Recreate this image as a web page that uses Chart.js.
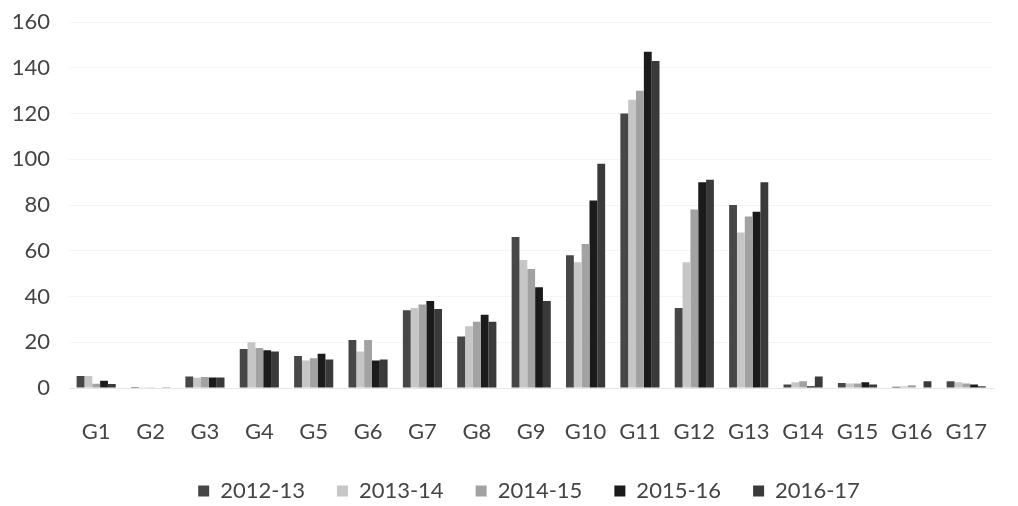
<!DOCTYPE html>
<html>
<head>
<meta charset="utf-8">
<script src="https://cdn.jsdelivr.net/npm/chart.js@4.4.1/dist/chart.umd.min.js"></script>
<style>
  html, body { margin: 0; padding: 0; background: #ffffff; }
  #wrap { width: 1018px; height: 506px; }
</style>
</head>
<body>
<div id="wrap"><canvas id="c" width="1018" height="506"></canvas></div>
<script>
// Categories along the x axis
const categories = ['G1','G2','G3','G4','G5','G6','G7','G8','G9','G10','G11','G12','G13','G14','G15','G16','G17'];

// Series values, one array per year
const y2012_13 = [5.3, 0.4, 5.0, 17.0, 14.0, 21.0, 34.0, 22.5, 66.0, 58.0, 120.0, 35.0, 80.0, 1.5, 2.2, 0.5, 3.0];
const y2013_14 = [5.3, 0.3, 4.5, 20.0, 12.0, 16.0, 35.0, 27.0, 56.0, 55.0, 126.0, 55.0, 68.0, 2.5, 2.0, 0.8, 2.5];
const y2014_15 = [1.9, 0.3, 4.8, 17.5, 13.0, 21.0, 36.5, 29.0, 52.0, 63.0, 130.0, 78.0, 75.0, 3.0, 2.0, 1.2, 2.0];
const y2015_16 = [3.2, 0.2, 4.6, 16.5, 15.0, 12.0, 38.0, 32.0, 44.0, 82.0, 147.0, 90.0, 77.0, 0.8, 2.5, 0.0, 1.5];
const y2016_17 = [1.8, 0.3, 4.6, 16.0, 12.5, 12.5, 34.5, 29.0, 38.0, 98.0, 143.0, 91.0, 90.0, 5.0, 1.5, 3.0, 0.8];

// Series names and y-axis tick values
const seriesNames = ['2012-13', '2013-14', '2014-15', '2015-16', '2016-17'];
const yTicks = [0, 20, 40, 60, 80, 100, 120, 140, 160];

const seriesValues = [y2012_13, y2013_14, y2014_15, y2015_16, y2016_17];
const seriesColors = ['#474747', '#c6c6c6', '#a2a2a2', '#1b1b1b', '#3a3a3a'];

Chart.defaults.font.family = 'Lato, "Open Sans", sans-serif';
Chart.defaults.color = '#444444';

// Centre the legend row under the plot rather than under the whole canvas
const legendOffset = {
  id: 'legendOffset',
  afterLayout(chart) {
    if (chart.legend) chart.legend.left = 40;
  }
};

new Chart(document.getElementById('c'), {
  type: 'bar',
  data: {
    labels: categories,
    datasets: seriesNames.map((name, i) => ({
      label: name,
      data: seriesValues[i],
      backgroundColor: seriesColors[i],
      borderWidth: 0,
      barPercentage: 1.0,
      categoryPercentage: 0.72
    }))
  },
  plugins: [legendOffset],
  options: {
    responsive: false,
    animation: false,
    devicePixelRatio: 1,
    layout: { autoPadding: false, padding: { top: 22, right: 0, bottom: -6, left: 0 } },
    plugins: {
      legend: {
        position: 'bottom',
        labels: {
          boxWidth: 11,
          boxHeight: 11,
          padding: 32,
          font: { size: 22 },
          color: '#444444'
        }
      },
      tooltip: { enabled: false }
    },
    scales: {
      x: {
        grid: { display: false, drawTicks: false },
        border: { display: true, color: '#e6e6e6' },
        ticks: { font: { size: 22 }, padding: 31, maxRotation: 0, autoSkip: false, color: '#444444' },
        afterFit: s => { s.height = 60; }
      },
      y: {
        min: 0,
        max: 160,
        afterBuildTicks: s => { s.ticks = yTicks.map(v => ({ value: v })); },
        grid: { color: '#f5f5f5', drawTicks: false },
        border: { display: false },
        ticks: { font: { size: 22 }, padding: 19, color: '#444444' },
        // fixed axis width; no extra room reserved above the top tick
        afterFit: s => { s.width = 69; s.paddingTop = 0; s.paddingBottom = 0; }
      }
    }
  }
});
</script>
</body>
</html>
